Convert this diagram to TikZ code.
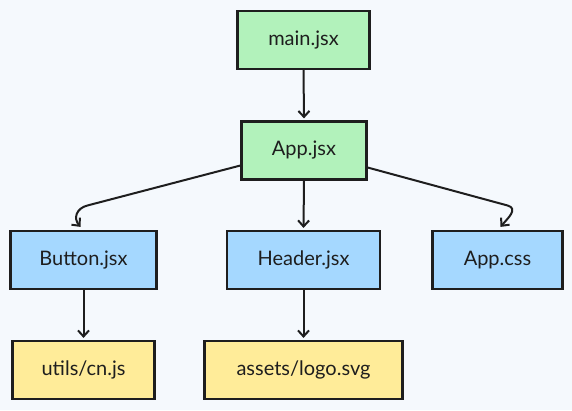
\documentclass[tikz,border=0pt]{standalone}
\usepackage{fontspec}
\setmainfont{Lato}
\usetikzlibrary{arrows.meta,calc}
\definecolor{bg}{HTML}{F5F9FD}
\definecolor{ink}{HTML}{1E1E1E}
\definecolor{gfill}{HTML}{B2F2BB}
\definecolor{bfill}{HTML}{A5D8FF}
\definecolor{yfill}{HTML}{FFEC99}
\begin{document}
\begin{tikzpicture}[x=1pt,y=-1pt,
  box/.style={draw=ink, line width=2.2pt, minimum height=58pt, text=ink,
    font=\fontsize{20}{24}\selectfont, inner sep=0pt},
  gbox/.style={box, fill=gfill},
  bbox/.style={box, fill=bfill},
  ybox/.style={box, fill=yfill},
  arr/.style={draw=ink, line width=2pt, line cap=round,
    -{Straight Barb[length=6pt,width=11pt,line width=2pt]}}]
\fill[bg] (0,0) rectangle (572,410);
\useasboundingbox (0,0) rectangle (572,410);
\node[gbox, minimum width=132pt] (main) at (303.5,40) {main.jsx};
\node[gbox, minimum width=125pt] (app) at (304,150.5) {App.jsx};
\node[bbox, minimum width=146pt] (button) at (83.5,260) {Button.jsx};
\node[bbox, minimum width=153pt] (header) at (303.5,260) {Header.jsx};
\node[bbox, minimum width=130pt] (css) at (497.5,260) {App.css};
\node[ybox, minimum width=142pt] (utils) at (83.5,370) {utils/cn.js};
\node[ybox, minimum width=198pt] (logo) at (303.5,370) {assets/logo.svg};
\draw[arr] (main.south) -- ([yshift=2pt]app.north);
\draw[arr] (app.south) -- ([yshift=2pt]header.north);
\draw[arr] (button.south) -- ([yshift=2pt]utils.north);
\draw[arr] (header.south) -- ([yshift=2pt]logo.north);
\draw[arr] ([yshift=-15pt]app.west) -- ++(-153,40) to[out=194,in=130,looseness=1.3] ([xshift=-3pt,yshift=3pt]button.north);
\draw[arr] ([yshift=-17pt]app.east) -- ++(140,38) to[out=-16,in=50,looseness=1.3] ([xshift=3pt,yshift=3pt]css.north);
\end{tikzpicture}
\end{document}
